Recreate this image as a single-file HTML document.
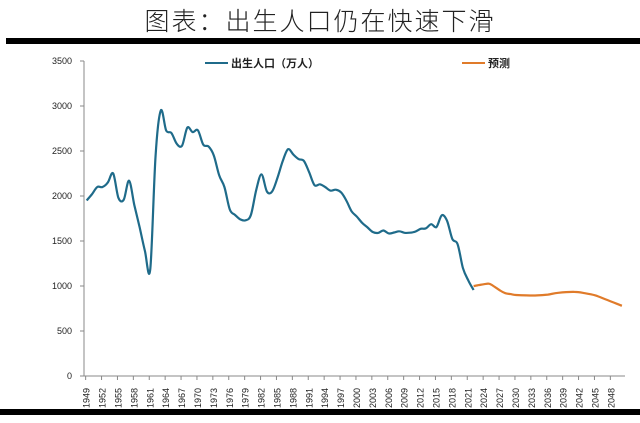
<!DOCTYPE html>
<html><head><meta charset="utf-8"><style>
body{margin:0;width:640px;height:418px;background:#fff;overflow:hidden;font-family:"Liberation Sans","Noto Sans CJK SC",sans-serif}
</style></head><body>
<svg id="s" width="640" height="418" xmlns="http://www.w3.org/2000/svg">
<text x="320" y="30" text-anchor="middle" font-family="'Noto Sans CJK SC',sans-serif" font-weight="300" font-size="25" fill="#222" letter-spacing="2">图表：出生人口仍在快速下滑</text>
<rect x="6" y="38" width="634" height="6" fill="#000"/>
<rect x="0" y="409" width="640" height="6" fill="#000"/>
<line x1="84" y1="61" x2="84" y2="376" stroke="#888" stroke-width="1"/>
<line x1="84" y1="376" x2="625" y2="376" stroke="#888" stroke-width="1"/>
<g id="g" font-size="9" fill="#222"></g>
<line x1="205" y1="63" x2="228" y2="63" stroke="#1f6b8a" stroke-width="2"/>
<text x="231" y="67" font-size="11" font-weight="bold" font-family="'Noto Sans CJK SC',sans-serif" fill="#222">出生人口（万人）</text>
<line x1="462" y1="63" x2="485" y2="63" stroke="#e07b2a" stroke-width="2"/>
<text x="488" y="67" font-size="11" font-weight="bold" font-family="'Noto Sans CJK SC',sans-serif" fill="#222">预测</text>
<path id="b" fill="none" stroke="#1f6b8a" stroke-width="2.2" stroke-linejoin="round"/>
<path id="o" fill="none" stroke="#e07b2a" stroke-width="2.2" stroke-linejoin="round"/>
</svg>
<script>
var X=function(y){return 84+(y-1949+0.5)*5.3},Y=function(v){return 376-v*0.09};
var g=document.getElementById('g'),h='';
for(var v=0;v<=3500;v+=500){h+='<text x="72" y="'+(Y(v)+3)+'" text-anchor="end">'+v+'</text><line x1="80" x2="84" y1="'+Y(v)+'" y2="'+Y(v)+'" stroke="#888"/>';}
for(var y=1949;y<=2048;y+=3){var x=X(y);h+='<line x1="'+(x-1)+'" x2="'+(x-1)+'" y1="376" y2="380" stroke="#888"/><text transform="translate('+(x+3)+',408) rotate(-90)" font-size="9">'+y+'</text>';}
g.innerHTML=h;
function smooth(pts){var p='M'+pts[0][0].toFixed(1)+','+pts[0][1].toFixed(1);
for(var i=0;i<pts.length-1;i++){var a=pts[i-1]||pts[i],b=pts[i],c=pts[i+1],e=pts[i+2]||c;
p+='C'+(b[0]+(c[0]-a[0])/6).toFixed(1)+','+(b[1]+(c[1]-a[1])/6).toFixed(1)+' '+(c[0]-(e[0]-b[0])/6).toFixed(1)+','+(c[1]-(e[1]-b[1])/6).toFixed(1)+' '+c[0].toFixed(1)+','+c[1].toFixed(1);}return p;}
var d=[1950,2020,2100,2100,2150,2250,1980,1960,2170,1900,1650,1390,1190,2450,2950,2730,2700,2580,2560,2760,2710,2730,2570,2550,2450,2230,2100,1850,1790,1740,1730,1790,2070,2240,2050,2050,2200,2390,2520,2460,2410,2390,2260,2120,2130,2100,2060,2070,2040,1950,1830,1770,1700,1650,1600,1590,1617,1584,1594,1608,1591,1592,1604,1635,1640,1687,1655,1786,1723,1523,1465,1200,1062,956];
document.getElementById('b').setAttribute('d',smooth(d.map(function(v,i){return [X(1949+i),Y(v)]})));
var f=[[2022,1000],[2023,1010],[2024,1020],[2025,1025],[2026,990],[2027,950],[2028,920],[2029,910],[2030,900],[2032,895],[2034,895],[2036,905],[2038,925],[2041,935],[2043,920],[2045,895],[2047,850],[2050,780]];
document.getElementById('o').setAttribute('d',smooth(f.map(function(a){return [X(a[0]),Y(a[1])]})));
</script>
</body></html>
